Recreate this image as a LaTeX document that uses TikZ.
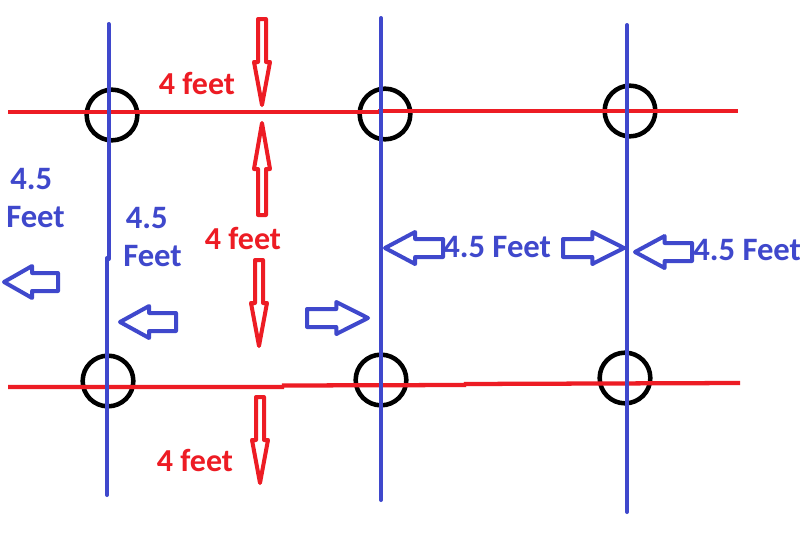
\documentclass[tikz,border=0pt]{standalone}
\usepackage{fontspec}
\setmainfont{Carlito}
\definecolor{bl}{RGB}{63,72,204}
\definecolor{rd}{RGB}{237,28,36}
\newcommand{\harrow}[4]{% x tip, y, x tail, colour
  \pgfmathsetmacro{\hs}{#1+(#3-#1)*0.52}
  \draw[#4,line width=3pt,line join=round] (#1,-#2) -- (\hs,-#2+16) -- (\hs,-#2+9) -- (#3,-#2+9) -- (#3,-#2-9) -- (\hs,-#2-9) -- (\hs,-#2-16) -- cycle;}
\newcommand{\varrow}[4]{% x, y tip, y tail, colour
  \pgfmathsetmacro{\hs}{#2+(#3-#2)*0.5}
  \draw[#4,line width=3pt,line join=round] (#1,-#2) -- (#1-8,-\hs) -- (#1-4,-\hs) -- (#1-4,-#3) -- (#1+4,-#3) -- (#1+4,-\hs) -- (#1+8,-\hs) -- cycle;}
\tikzset{x=0.75pt,y=0.75pt,
 bline/.style={bl,line width=3pt,line cap=round},
 rline/.style={rd,line width=3.2pt},
 ring/.style={draw=black,line width=3.4pt,circle,minimum size=38pt,inner sep=0pt},
 rlab/.style={text=rd,font=\bfseries\fontsize{24}{28}\selectfont,inner sep=0pt},
 blab/.style={text=bl,font=\bfseries\fontsize{24.5}{28}\selectfont,inner sep=0pt,align=left}}
\begin{document}
\begin{tikzpicture}
\useasboundingbox (0,0) rectangle (800,-550);
\fill[white] (0,0) rectangle (800,-550);
\node[ring] (c1) at (112,-115) {};
\node[ring] (c2) at (385,-114) {};
\node[ring] (c3) at (630,-111) {};
\node[ring] (c4) at (108,-381) {};
\node[ring] (c5) at (381,-380) {};
\node[ring] (c6) at (625,-378) {};
\draw[rline] (8,-112) -- (380,-112) (378,-111) -- (738,-111);
\draw[rline] (8,-387) -- (284,-387) (282,-385.5) -- (466,-385) (464,-384) -- (740,-383);
\draw[bline] (108.5,-24) -- (108.5,-259) (107,-258) -- (107,-495);
\draw[bline] (381,-18) -- (381,-500);
\draw[bline] (627,-25) -- (627,-512);
\varrow{262}{105}{19}{rd}
\varrow{262}{123}{215}{rd}
\varrow{259}{346}{260}{rd}
\varrow{260}{483}{397}{rd}
\harrow{4}{282}{58}{bl}
\harrow{120}{322}{176}{bl}
\harrow{368}{318}{307}{bl}
\harrow{385}{248}{443}{bl}
\harrow{624}{248}{563}{bl}
\harrow{635}{252}{692}{bl}
\node[rlab] (t1) at (197,-83) {4 feet};
\node[rlab] (t2) at (243,-238) {4 feet};
\node[rlab] (t3) at (195,-460) {4 feet};
\node[blab,anchor=west] (t4) at (6,-198) {\hspace*{3pt}4.5\\Feet};
\node[blab,anchor=west] (t5) at (123,-237) {\hspace*{2pt}4.5\\Feet};
\node[blab,anchor=west] (t6) at (443,-247) {4.5 Feet};
\node[blab,anchor=west] (t7) at (693,-250) {4.5 Feet};
\end{tikzpicture}
\end{document}
